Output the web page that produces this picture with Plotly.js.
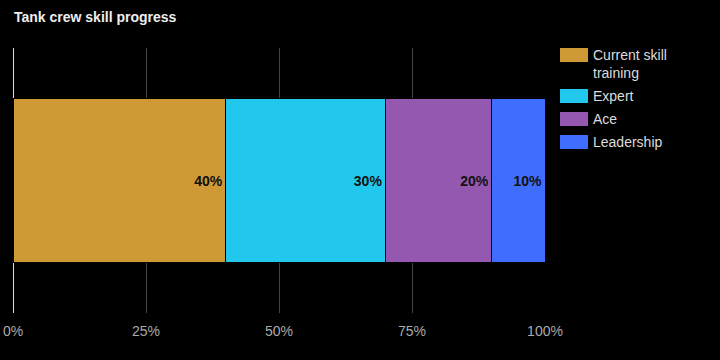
<!DOCTYPE html>
<html><head><meta charset="utf-8">
<script src="https://cdn.plot.ly/plotly-3.0.1.min.js"></script>
<style>html,body{margin:0;padding:0;background:#000;}#chart{width:720px;height:360px;}</style>
</head><body><div id="chart"></div>
<script>
const category = ["Crew"];
const seriesNames = ["Current skill<br>training", "Expert", "Ace", "Leadership"];
const seriesValues = [40, 30, 20, 10];
const seriesColors = ["#CF9A36", "#22C7EE", "#9558B0", "#3F6EFF"];
const tickValues = [0, 25, 50, 75, 100];
const tickLabels = ["0%", "25%", "50%", "75%", "100%"];

const traces = seriesNames.map((n, i) => ({
  type: "bar", orientation: "h", name: n,
  y: category, x: [seriesValues[i]],
  text: [seriesValues[i] + "%"], textposition: "inside", insidetextanchor: "end",
  textfont: {family: "Liberation Sans, Arial, sans-serif", size: 14, color: "#111", weight: "bold"},
  marker: {color: seriesColors[i], line: {color: "#000", width: 1}},
  hoverinfo: "none", showlegend: false
}));

// custom legend
const shapes = [], annotations = [];
const legendY = [48, 89, 112, 135];
seriesNames.forEach((n, i) => {
  const top = legendY[i];
  shapes.push({type: "rect", xref: "paper", yref: "paper",
    x0: (560 - 13) / 532, x1: (588 - 13) / 532,
    y0: 1 - (top - 48) / 265, y1: 1 - (top + 14 - 48) / 265,
    fillcolor: seriesColors[i], line: {width: 0}});
  annotations.push({xref: "paper", yref: "paper", x: (591 - 13) / 532,
    y: 1 - (top - 3 - 48) / 265, xanchor: "left", yanchor: "top", align: "left",
    text: n, showarrow: false,
    font: {family: "Liberation Sans, Arial, sans-serif", size: 14, color: "#DDDDDD"}});
});

const layout = {
  width: 720, height: 360,
  paper_bgcolor: "#000", plot_bgcolor: "#000",
  margin: {l: 13, r: 175, t: 48, b: 47},
  barmode: "stack", bargap: 0.38,
  title: {text: "<b>Tank crew skill progress</b>", x: 0, xref: "paper", xanchor: "left",
    y: 1, yref: "container", yanchor: "top", pad: {t: 12, l: 1},
    font: {family: "Liberation Sans, Arial, sans-serif", size: 14, color: "#EEEEEE"}},
  xaxis: {range: [0, 100], tickvals: tickValues, ticktext: tickLabels,
    showgrid: true, gridcolor: "#444", gridwidth: 1,
    zeroline: true, zerolinecolor: "#DDDDDD", zerolinewidth: 1,
    showline: false, ticks: "", ticklabelstandoff: 8,
    tickfont: {family: "Liberation Sans, Arial, sans-serif", size: 14, color: "#AAAAAA"},
    fixedrange: true},
  yaxis: {visible: false, showgrid: false, zeroline: false, fixedrange: true},
  shapes: shapes, annotations: annotations,
  font: {family: "Liberation Sans, Arial, sans-serif"}
};
Plotly.newPlot("chart", traces, layout, {displayModeBar: false, staticPlot: true});
</script></body></html>
